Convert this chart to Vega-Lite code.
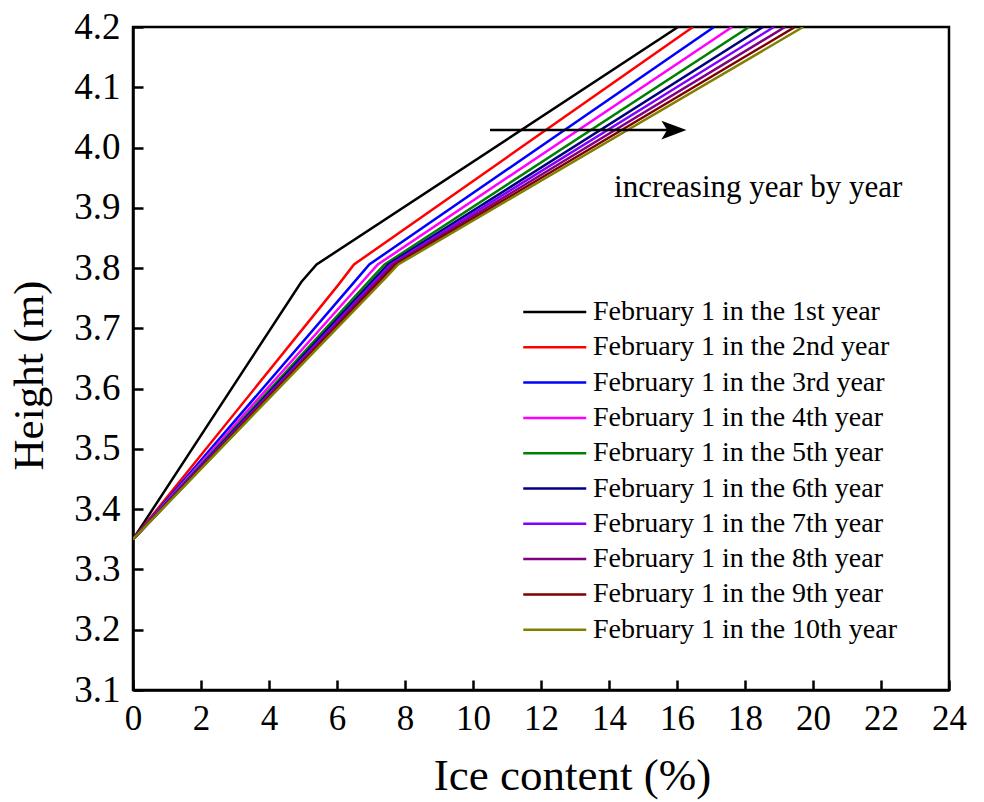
{
  "$schema": "https://vega.github.io/schema/vega-lite/v6.json",
  "width": 816,
  "height": 663,
  "autosize": "none",
  "padding": {"left": 133, "top": 27, "right": 35, "bottom": 112},
  "background": "white",
  "config": {
    "view": {"stroke": "black", "strokeWidth": 2.5},
    "font": "Liberation Serif"
  },
  "datasets": {
    "curves": [
      {"series": "February 1 in the 1st year", "x": 0, "y": 3.35},
      {"series": "February 1 in the 1st year", "x": 4.95, "y": 3.777},
      {"series": "February 1 in the 1st year", "x": 5.4, "y": 3.806},
      {"series": "February 1 in the 1st year", "x": 16.03, "y": 4.2},
      {"series": "February 1 in the 2nd year", "x": 0, "y": 3.35},
      {"series": "February 1 in the 2nd year", "x": 6.05, "y": 3.773},
      {"series": "February 1 in the 2nd year", "x": 6.5, "y": 3.806},
      {"series": "February 1 in the 2nd year", "x": 16.47, "y": 4.2},
      {"series": "February 1 in the 3rd year", "x": 0, "y": 3.35},
      {"series": "February 1 in the 3rd year", "x": 6.6, "y": 3.783},
      {"series": "February 1 in the 3rd year", "x": 6.95, "y": 3.806},
      {"series": "February 1 in the 3rd year", "x": 17.09, "y": 4.2},
      {"series": "February 1 in the 4th year", "x": 0, "y": 3.35},
      {"series": "February 1 in the 4th year", "x": 6.85, "y": 3.784},
      {"series": "February 1 in the 4th year", "x": 7.2, "y": 3.806},
      {"series": "February 1 in the 4th year", "x": 17.62, "y": 4.2},
      {"series": "February 1 in the 5th year", "x": 0, "y": 3.35},
      {"series": "February 1 in the 5th year", "x": 7.05, "y": 3.785},
      {"series": "February 1 in the 5th year", "x": 7.4, "y": 3.806},
      {"series": "February 1 in the 5th year", "x": 18.12, "y": 4.2},
      {"series": "February 1 in the 6th year", "x": 0, "y": 3.35},
      {"series": "February 1 in the 6th year", "x": 7.15, "y": 3.785},
      {"series": "February 1 in the 6th year", "x": 7.5, "y": 3.806},
      {"series": "February 1 in the 6th year", "x": 18.53, "y": 4.2},
      {"series": "February 1 in the 7th year", "x": 0, "y": 3.35},
      {"series": "February 1 in the 7th year", "x": 7.23, "y": 3.785},
      {"series": "February 1 in the 7th year", "x": 7.58, "y": 3.806},
      {"series": "February 1 in the 7th year", "x": 18.85, "y": 4.2},
      {"series": "February 1 in the 8th year", "x": 0, "y": 3.35},
      {"series": "February 1 in the 8th year", "x": 7.3, "y": 3.785},
      {"series": "February 1 in the 8th year", "x": 7.65, "y": 3.806},
      {"series": "February 1 in the 8th year", "x": 19.18, "y": 4.2},
      {"series": "February 1 in the 9th year", "x": 0, "y": 3.35},
      {"series": "February 1 in the 9th year", "x": 7.37, "y": 3.785},
      {"series": "February 1 in the 9th year", "x": 7.72, "y": 3.806},
      {"series": "February 1 in the 9th year", "x": 19.47, "y": 4.2},
      {"series": "February 1 in the 10th year", "x": 0, "y": 3.35},
      {"series": "February 1 in the 10th year", "x": 7.45, "y": 3.785},
      {"series": "February 1 in the 10th year", "x": 7.8, "y": 3.806},
      {"series": "February 1 in the 10th year", "x": 19.71, "y": 4.2}
    ],
    "arrow": [{"x": 10.5, "x2": 16.0, "y": 4.029}],
    "head": [{"x": 15.91, "y": 4.029}],
    "note": [{"x": 14.15, "y": 3.933, "label": "increasing year by year"}]
  },
  "layer": [
    {
      "data": {"name": "curves"},
      "mark": {"type": "line", "strokeWidth": 2.5, "clip": true},
      "encoding": {
        "x": {
          "field": "x", "type": "quantitative",
          "scale": {"domain": [0, 24], "nice": false, "zero": false},
          "axis": {
            "title": "Ice content (%)",
            "values": [0,1,2,3,4,5,6,7,8,9,10,11,12,13,14,15,16,17,18,19,20,21,22,23,24],
            "labelExpr": "datum.value % 2 === 0 ? datum.label : ''",
            "tickSize": {"condition": {"test": "datum.value % 2 === 0", "value": -10}, "value": -6},
            "tickColor": "black", "tickWidth": 2.5,
            "domainColor": "black", "domainWidth": 2.5,
            "grid": false,
            "labelFont": "Liberation Serif", "labelFontSize": 35, "labelColor": "black",
            "labelPadding": 21, "labelFlush": false, "labelOverlap": false,
            "titleFont": "Liberation Serif", "titleFontSize": 45, "titleFontWeight": "normal", "titleColor": "black",
            "titleX": 439, "titleY": 99, "titleBaseline": "alphabetic", "titleAnchor": "middle", "titleAlign": "center"
          }
        },
        "y": {
          "field": "y", "type": "quantitative",
          "scale": {"domain": [3.1, 4.2], "nice": false, "zero": false},
          "axis": {
            "title": "Height (m)",
            "values": [3.1,3.15,3.2,3.25,3.3,3.35,3.4,3.45,3.5,3.55,3.6,3.65,3.7,3.75,3.8,3.85,3.9,3.95,4.0,4.05,4.1,4.15,4.2],
            "labelExpr": "abs(round(datum.value*10) - datum.value*10) < 0.001 ? format(datum.value, '.1f') : ''",
            "tickSize": {"condition": {"test": "abs(round(datum.value*10) - datum.value*10) < 0.001", "value": -10}, "value": -6},
            "tickColor": "black", "tickWidth": 2.5,
            "domainColor": "black", "domainWidth": 2.5,
            "grid": false,
            "labelFont": "Liberation Serif", "labelFontSize": 37, "labelColor": "black",
            "labelPadding": 23, "labelFlush": false, "labelOverlap": false,
            "titleFont": "Liberation Serif", "titleFontSize": 43, "titleFontWeight": "normal", "titleColor": "black",
            "titleX": -91, "titleY": 348, "titleBaseline": "alphabetic", "titleAngle": -90, "titleAlign": "center"
          }
        },
        "color": {
          "field": "series", "type": "nominal",
          "scale": {
            "domain": ["February 1 in the 1st year","February 1 in the 2nd year","February 1 in the 3rd year","February 1 in the 4th year","February 1 in the 5th year","February 1 in the 6th year","February 1 in the 7th year","February 1 in the 8th year","February 1 in the 9th year","February 1 in the 10th year"],
            "range": ["#000000","#ff0000","#0000ff","#ff00ff","#008000","#000080","#8000ff","#800080","#800000","#808000"]
          },
          "legend": {
            "title": null, "orient": "none", "legendX": 389, "legendY": 268,
            "symbolType": "M-1,0H3", "symbolSize": 992, "symbolStrokeWidth": 2.5,
            "labelFont": "Liberation Serif", "labelFontSize": 28, "labelColor": "black",
            "labelOffset": 37, "rowPadding": 4.3, "labelLimit": 400
          }
        }
      }
    },
    {
      "data": {"name": "arrow"},
      "mark": {"type": "rule", "color": "black", "strokeWidth": 2.5},
      "encoding": {
        "x": {"field": "x", "type": "quantitative"},
        "x2": {"field": "x2"},
        "y": {"field": "y", "type": "quantitative"}
      }
    },
    {
      "data": {"name": "head"},
      "mark": {"type": "point", "shape": "M1,0L-1,-0.75L-0.55,0L-1,0.75Z", "size": 625, "filled": true, "color": "black", "opacity": 1},
      "encoding": {
        "x": {"field": "x", "type": "quantitative"},
        "y": {"field": "y", "type": "quantitative"}
      }
    },
    {
      "data": {"name": "note"},
      "mark": {"type": "text", "font": "Liberation Serif", "fontSize": 31, "align": "left", "baseline": "middle", "color": "black"},
      "encoding": {
        "x": {"field": "x", "type": "quantitative"},
        "y": {"field": "y", "type": "quantitative"},
        "text": {"field": "label"}
      }
    }
  ]
}
